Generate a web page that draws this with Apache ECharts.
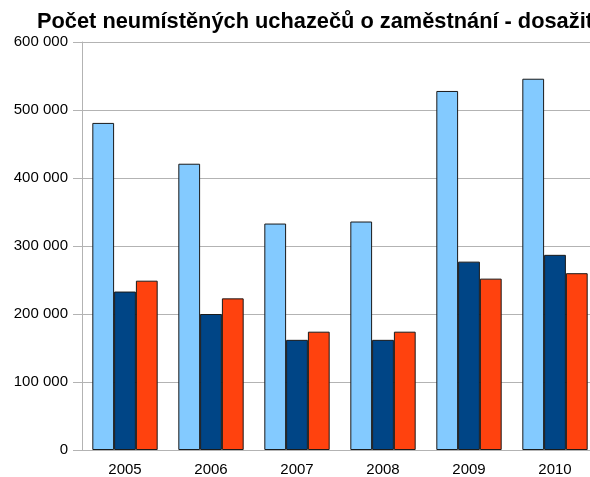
<!DOCTYPE html>
<html><head><meta charset="utf-8">
<script src="https://cdn.jsdelivr.net/npm/echarts@6/dist/echarts.min.js"></script>
<style>html,body{margin:0;padding:0;background:#fff;overflow:hidden;width:590px;height:477px;}#c{width:598px;height:477px;}</style>
</head><body><div id="c"></div>
<script>
const titleText = "Počet neumístěných uchazečů o zaměstnání - dosažitelní";
const categories = ["2005", "2006", "2007", "2008", "2009", "2010"];
const seriesA = [481000, 421000, 333000, 336000, 528000, 546000];
const seriesB = [233000, 200000, 162000, 162000, 277000, 287000];
const seriesC = [249000, 223000, 174000, 174000, 252000, 260000];
const yTicks = [0, 100000, 200000, 300000, 400000, 500000, 600000];

const fmt = v => v === 0 ? "0" : String(v).replace(/\B(?=(\d{3})+(?!\d))/g, " ");
const chart = echarts.init(document.getElementById('c'), null, {renderer:'canvas'});
const font = "Liberation Sans";
const barStyle = c => ({color:c, borderColor:'#1a1a1a', borderWidth:1});
chart.setOption({
  animation:false,
  textStyle:{fontFamily:font},
  title:{text:titleText, left:32, top:6, textStyle:{fontFamily:font, fontSize:21.8, fontWeight:'bold', color:'#000'}},
  grid:{left:82, top:42, right:0, height:408, containLabel:false},
  xAxis:{type:'category', data:categories,
    axisLine:{lineStyle:{color:'#b3b3b3'}},
    axisTick:{alignWithLabel:true, length:7, lineStyle:{color:'#b3b3b3'}},
    axisLabel:{color:'#000', fontSize:15, margin:12, fontFamily:font}},
  yAxis:{type:'value', min:yTicks[0], max:yTicks[yTicks.length-1], interval:100000,
    axisLine:{show:true, lineStyle:{color:'#b3b3b3'}},
    axisTick:{show:true, length:9, lineStyle:{color:'#b3b3b3'}},
    splitLine:{lineStyle:{color:'#b3b3b3'}},
    axisLabel:{color:'#000', fontSize:15, margin:14, fontFamily:font, formatter:fmt}},
  series:[
    {type:'bar', data:seriesA, itemStyle:barStyle('#83caff'), barGap:'0%', barCategoryGap:'24%'},
    {type:'bar', data:seriesB, itemStyle:barStyle('#004586'), barGap:'0%', barCategoryGap:'24%'},
    {type:'bar', data:seriesC, itemStyle:barStyle('#ff420e'), barGap:'0%', barCategoryGap:'24%'}
  ]
});
</script></body></html>
